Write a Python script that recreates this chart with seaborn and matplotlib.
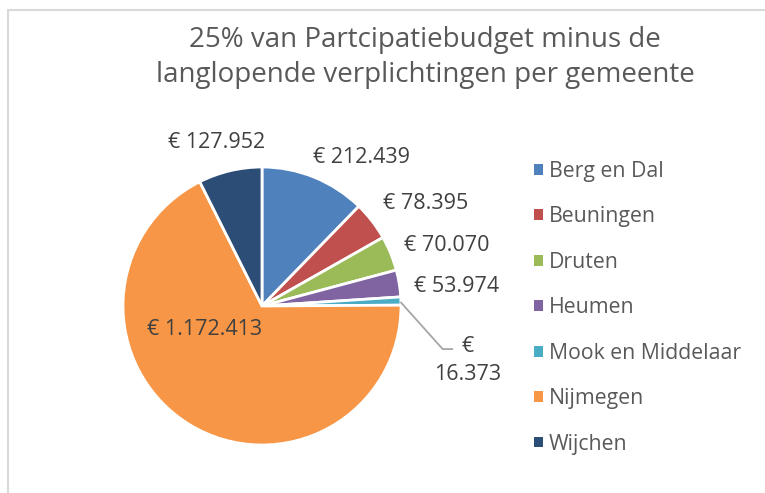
import numpy as np
import matplotlib.pyplot as plt
import seaborn as sns
from matplotlib.patches import Patch
from matplotlib.lines import Line2D

# Data
gemeenten = ["Berg en Dal", "Beuningen", "Druten", "Heumen",
             "Mook en Middelaar", "Nijmegen", "Wijchen"]
bedragen = [212439, 78395, 70070, 53974, 16373, 1172413, 127952]
labels = ["€ 212.439", "€ 78.395", "€ 70.070", "€ 53.974",
          "€\n16.373", "€ 1.172.413", "€ 127.952"]
kleuren = ["#4F81BD", "#C0504D", "#9BBB59", "#8064A2",
           "#4BACC6", "#F79646", "#2C4D75"]

sns.set_theme(style="white")
plt.rcParams['font.family'] = ['Open Sans', 'DejaVu Sans']

W, H = 765, 493
fig = plt.figure(figsize=(W / 100, H / 100), dpi=100)

# pie axes: center at (262, 306) px, radius 139 px
cx, cy, r, half = 262, 306, 139, 170
ax = fig.add_axes([(cx - half) / W, (H - cy - half) / H, 2 * half / W, 2 * half / H])
wedges, _ = ax.pie(bedragen, colors=kleuren, startangle=90, counterclock=False,
                   wedgeprops=dict(edgecolor="white", linewidth=2))
lim = half / r
ax.set_xlim(-lim, lim)
ax.set_ylim(-lim, lim)
ax.set_aspect("equal")
ax.axis("off")

# label placement per slice: (distance, angle offset, ha, va)
plaats = [(1.13, 3.2, "left", "center"),
          (1.14, 2.4, "left", "center"),
          (1.11, 1.0, "left", "center"),
          (1.10, -2.2, "left", "center"),
          (None, 0, "center", "center"),
          (0.45, -36, "center", "center"),
          (1.22, 2.1, "center", "center")]
for w, lab, (d, off, ha, va) in zip(wedges, labels, plaats):
    mid = np.deg2rad((w.theta1 + w.theta2) / 2)
    if d is None:
        # leader line for the small slice
        x0, y0 = np.cos(mid), np.sin(mid)
        ax.add_line(Line2D([x0, 1.30, 1.37], [y0 - 0.01, -0.31, -0.31],
                           color="#A6A6A6", lw=1.3, clip_on=False))
        ax.text(1.48, -0.39, lab, ha="center", va="center", fontsize=15.5,
                multialignment="center", color="#404040", linespacing=1.45)
        continue
    a = mid + np.deg2rad(off)
    ax.text(d * np.cos(a), d * np.sin(a), lab, ha=ha, va=va,
            fontsize=15.5, color="#404040")

# title
fig.text(425 / W, 1 - 40 / H, "25% van Partcipatiebudget minus de",
         ha="center", va="center", fontsize=20, color="#595959")
fig.text(425 / W, 1 - 75 / H, "langlopende verplichtingen per gemeente",
         ha="center", va="center", fontsize=20, color="#595959")

# legend
handles = [Patch(facecolor=c, edgecolor="none") for c in kleuren]
fig.legend(handles, gemeenten, loc="upper left",
           bbox_to_anchor=(534 / W, 1 - 161 / H), frameon=False,
           fontsize=15.3, labelcolor="#595959", handlelength=0.4,
           handleheight=0.4, handletextpad=0.3, labelspacing=1.15,
           borderaxespad=0, borderpad=0)

# chart border (top and left visible)
fig.add_artist(Line2D([8 / W, 1], [1 - 10 / H, 1 - 10 / H], color="#D9D9D9", lw=1.5))
fig.add_artist(Line2D([8 / W, 8 / W], [0, 1 - 10 / H], color="#D9D9D9", lw=1.5))

fig.savefig("out.png", dpi=100)
